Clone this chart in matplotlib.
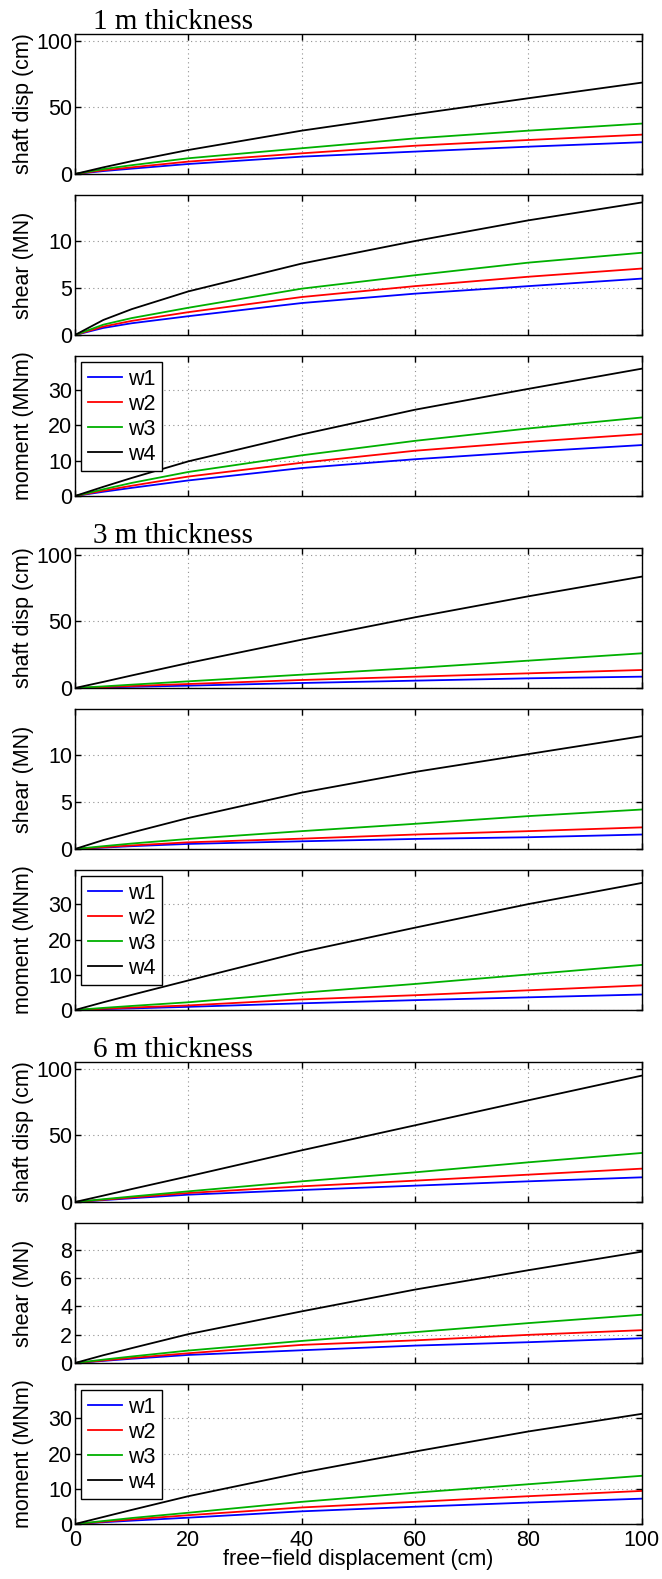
import matplotlib
matplotlib.use('Agg')
import matplotlib.pyplot as plt

plt.rcParams['font.family'] = ['Liberation Sans', 'DejaVu Sans']

# free-field displacement (cm)
x = [0, 5, 10, 20, 40, 60, 80, 100]

# ---------------- 1 m thickness ----------------
disp_1m_w1 = [0, 2.2, 4.0, 7.5, 13.0, 16.8, 20.5, 23.8]
disp_1m_w2 = [0, 2.8, 5.0, 9.3, 15.5, 21.2, 25.5, 29.5]
disp_1m_w3 = [0, 3.7, 6.6, 11.8, 19.3, 26.7, 32.5, 37.8]
disp_1m_w4 = [0, 5.0, 9.6, 18.0, 32.5, 44.8, 56.8, 68.5]

shear_1m_w1 = [0, 0.75, 1.25, 2.0, 3.4, 4.4, 5.2, 6.0]
shear_1m_w2 = [0, 0.9, 1.5, 2.43, 4.04, 5.2, 6.2, 7.07]
shear_1m_w3 = [0, 1.1, 1.8, 2.9, 4.93, 6.36, 7.7, 8.75]
shear_1m_w4 = [0, 1.6, 2.75, 4.64, 7.6, 10.0, 12.2, 14.1]

mom_1m_w1 = [0, 1.2, 2.3, 4.4, 7.9, 10.4, 12.5, 14.4]
mom_1m_w2 = [0, 1.5, 2.9, 5.5, 9.4, 12.8, 15.3, 17.5]
mom_1m_w3 = [0, 1.9, 3.7, 6.8, 11.5, 15.6, 19.1, 22.2]
mom_1m_w4 = [0, 2.6, 5.1, 9.8, 17.4, 24.4, 30.3, 36.0]

# ---------------- 3 m thickness ----------------
disp_3m_w1 = [0, 0.4, 0.9, 1.75, 3.75, 5.5, 7.25, 8.5]
disp_3m_w2 = [0, 0.7, 1.5, 3.0, 6.0, 8.5, 11.0, 13.5]
disp_3m_w3 = [0, 1.2, 2.5, 5.0, 10.0, 15.0, 20.5, 26.0]
disp_3m_w4 = [0, 4.6, 9.4, 18.75, 36.25, 53.0, 68.75, 83.5]

shear_3m_w1 = [0, 0.15, 0.3, 0.54, 0.82, 1.07, 1.25, 1.54]
shear_3m_w2 = [0, 0.2, 0.38, 0.71, 1.1, 1.54, 1.9, 2.3]
shear_3m_w3 = [0, 0.3, 0.58, 1.07, 1.9, 2.68, 3.5, 4.2]
shear_3m_w4 = [0, 0.95, 1.75, 3.3, 6.0, 8.2, 10.1, 12.0]

mom_3m_w1 = [0, 0.25, 0.45, 0.9, 1.9, 2.8, 3.6, 4.4]
mom_3m_w2 = [0, 0.35, 0.7, 1.3, 3.0, 4.2, 5.6, 7.0]
mom_3m_w3 = [0, 0.6, 1.15, 2.2, 4.9, 7.4, 10.1, 12.8]
mom_3m_w4 = [0, 2.2, 4.3, 8.4, 16.5, 23.4, 30.1, 36.1]

# ---------------- 6 m thickness ----------------
disp_6m_w1 = [0, 1.4, 2.8, 5.5, 9.0, 12.25, 15.5, 18.5]
disp_6m_w2 = [0, 1.7, 3.4, 6.75, 11.75, 16.0, 20.5, 25.0]
disp_6m_w3 = [0, 2.1, 4.1, 8.0, 15.5, 22.25, 29.75, 36.75]
disp_6m_w4 = [0, 4.8, 9.7, 19.25, 38.75, 57.5, 76.25, 94.75]

shear_6m_w1 = [0, 0.15, 0.3, 0.57, 0.9, 1.23, 1.47, 1.75]
shear_6m_w2 = [0, 0.18, 0.36, 0.69, 1.28, 1.6, 1.99, 2.32]
shear_6m_w3 = [0, 0.24, 0.46, 0.88, 1.56, 2.18, 2.82, 3.41]
shear_6m_w4 = [0, 0.55, 1.05, 2.04, 3.65, 5.19, 6.56, 7.87]

mom_6m_w1 = [0, 0.5, 0.95, 1.8, 3.6, 4.9, 6.1, 7.2]
mom_6m_w2 = [0, 0.65, 1.3, 2.5, 4.7, 6.3, 7.9, 9.4]
mom_6m_w3 = [0, 0.85, 1.7, 3.2, 6.3, 8.9, 11.3, 13.7]
mom_6m_w4 = [0, 2.0, 4.0, 7.9, 14.6, 20.6, 26.3, 31.3]

titles = ['1 m thickness', '3 m thickness', '6 m thickness']
ylabels = ['shaft disp (cm)', 'shear (MN)', 'moment (MNm)']
labels = ['w1', 'w2', 'w3', 'w4']
colors = ['#0000ff', '#ff0000', '#00b000', '#000000']

groups = [
    [[disp_1m_w1, disp_1m_w2, disp_1m_w3, disp_1m_w4],
     [shear_1m_w1, shear_1m_w2, shear_1m_w3, shear_1m_w4],
     [mom_1m_w1, mom_1m_w2, mom_1m_w3, mom_1m_w4]],
    [[disp_3m_w1, disp_3m_w2, disp_3m_w3, disp_3m_w4],
     [shear_3m_w1, shear_3m_w2, shear_3m_w3, shear_3m_w4],
     [mom_3m_w1, mom_3m_w2, mom_3m_w3, mom_3m_w4]],
    [[disp_6m_w1, disp_6m_w2, disp_6m_w3, disp_6m_w4],
     [shear_6m_w1, shear_6m_w2, shear_6m_w3, shear_6m_w4],
     [mom_6m_w1, mom_6m_w2, mom_6m_w3, mom_6m_w4]],
]
ylims = [[105, 14.9, 39.6], [105, 14.9, 39.8], [105, 9.9, 39.8]]
yticks = [[[0, 50, 100], [0, 5, 10], [0, 10, 20, 30]],
          [[0, 50, 100], [0, 5, 10], [0, 10, 20, 30]],
          [[0, 50, 100], [0, 2, 4, 6, 8], [0, 10, 20, 30]]]

W, H = 662, 1579
fs = 15.5
fig = plt.figure(figsize=(W / 100, H / 100), dpi=100)

left_px, width_px, height_px = 75, 566.5, 140
for g in range(3):
    for k in range(3):
        top_px = 34 + 514 * g + 161 * k
        ax = fig.add_axes([left_px / W, 1 - (top_px + height_px) / H,
                           width_px / W, height_px / H])
        for s, c, lab in zip(groups[g][k], colors, labels):
            ax.plot(x, s, color=c, linewidth=1.3, label=lab)
        ax.set_xlim(0, 100)
        ax.set_ylim(0, ylims[g][k])
        ax.set_xticks([0, 20, 40, 60, 80, 100])
        ax.set_yticks(yticks[g][k])
        ax.grid(True, linestyle=(0, (1, 3)), color='#909090', linewidth=0.8)
        ax.tick_params(direction='in', length=4, width=1.0, top=True, right=True,
                       labelsize=fs, pad=2)
        ax.tick_params(axis='x', pad=4)
        for sp in ax.spines.values():
            sp.set_linewidth(1.0)
        ax.set_ylabel(ylabels[k], fontsize=fs)
        ax.yaxis.set_label_coords(-0.072, 0.5)
        if g == 2 and k == 2:
            ax.set_xlabel('free\u2212field displacement (cm)', fontsize=fs, labelpad=-1)
        else:
            ax.set_xticklabels([])
        if k == 0:
            ax.text(0.032, 1 + 5 / height_px, titles[g], transform=ax.transAxes,
                    fontsize=21, family=['Liberation Serif'], va='baseline', ha='left')
        if k == 2:
            leg = ax.legend(loc='upper left', fontsize=fs, fancybox=False,
                            edgecolor='black', framealpha=1, handlelength=1.6,
                            handletextpad=0.25, labelspacing=0.18, borderpad=0.3,
                            borderaxespad=0.3)
            leg.get_frame().set_linewidth(1.0)

fig.savefig('out.png', dpi=100)
print("Done: out.png")
